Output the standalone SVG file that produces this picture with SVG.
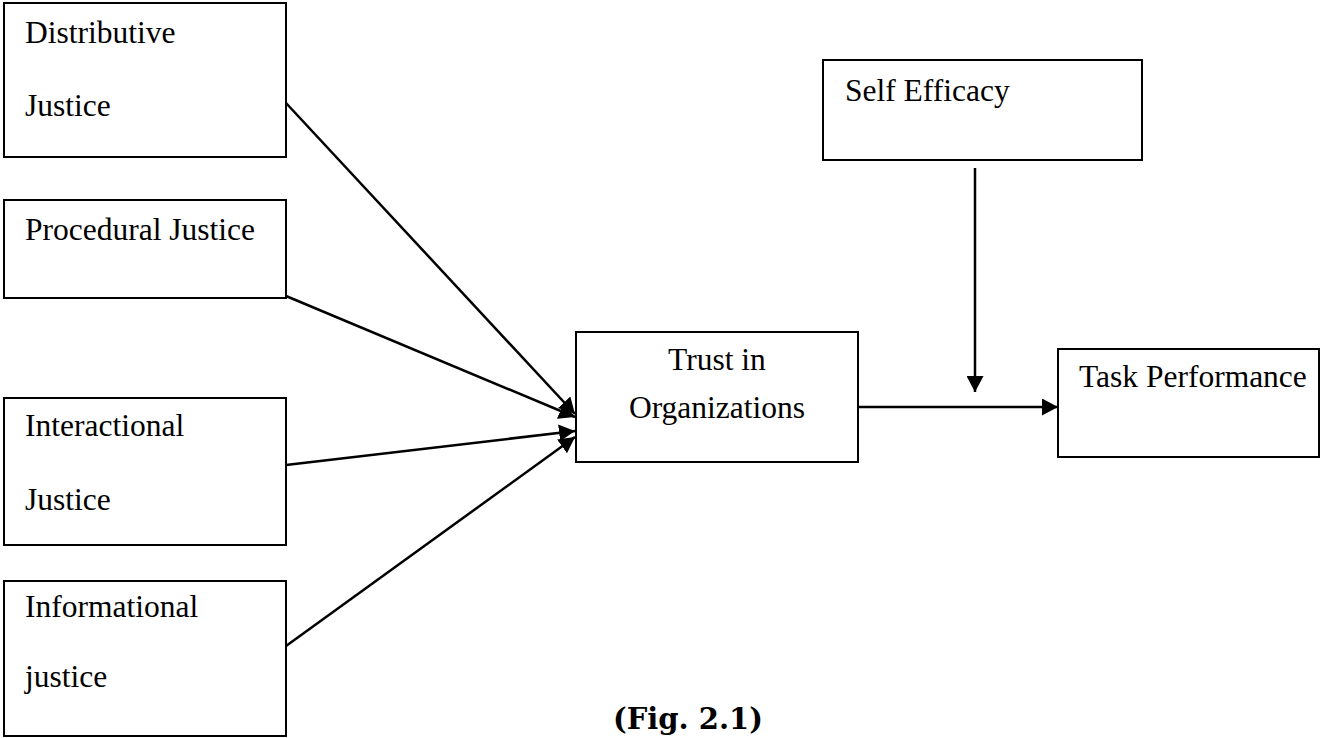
<svg xmlns="http://www.w3.org/2000/svg" width="1320" height="738" viewBox="0 0 1320 738">
<defs>
<style>
.box{fill:#fff;stroke:#000;stroke-width:2}
.lbl{font-family:"Liberation Serif","Times New Roman",serif;font-size:31.5px;fill:#000}
.mid{text-anchor:middle}
.edge{stroke:#000;stroke-width:2.5;fill:none}
.cap{font-family:"DejaVu Serif",serif;font-weight:bold;font-size:29px;fill:#000}
</style>
<marker id="ah" markerUnits="userSpaceOnUse" markerWidth="17" markerHeight="17" refX="16" refY="8.5" orient="auto">
<path d="M0,0 L16,8.5 L0,17 z" fill="#000"/>
</marker>
</defs>
<rect width="1320" height="738" fill="#fff"/>
<g id="connectors">
<line class="edge" x1="286" y1="103" x2="575" y2="414" marker-end="url(#ah)"/>
<line class="edge" x1="286" y1="296" x2="575" y2="417" marker-end="url(#ah)"/>
<line class="edge" x1="286" y1="465" x2="575" y2="431" marker-end="url(#ah)"/>
<line class="edge" x1="286" y1="646" x2="575" y2="437" marker-end="url(#ah)"/>
<line class="edge" x1="858" y1="407" x2="1058" y2="407" marker-end="url(#ah)"/>
<line class="edge" x1="975" y1="168" x2="975" y2="392" marker-end="url(#ah)"/>
</g>
<g id="distributive">
<rect class="box" x="4" y="3" width="282" height="154"/>
<text class="lbl" x="25" y="43">Distributive</text>
<text class="lbl" x="25" y="116">Justice</text>
</g>
<g id="procedural">
<rect class="box" x="4" y="200" width="282" height="98"/>
<text class="lbl" x="25" y="240">Procedural Justice</text>
</g>
<g id="interactional">
<rect class="box" x="4" y="398" width="282" height="147"/>
<text class="lbl" x="25" y="436">Interactional</text>
<text class="lbl" x="25" y="510">Justice</text>
</g>
<g id="informational">
<rect class="box" x="4" y="581" width="282" height="155"/>
<text class="lbl" x="25" y="617">Informational</text>
<text class="lbl" x="25" y="687">justice</text>
</g>
<g id="trust">
<rect class="box" x="576" y="332" width="282" height="130"/>
<text class="lbl mid" x="717" y="370">Trust in</text>
<text class="lbl mid" x="717" y="418">Organizations</text>
</g>
<g id="self-efficacy">
<rect class="box" x="823" y="60" width="319" height="100"/>
<text class="lbl" x="845" y="101">Self Efficacy</text>
</g>
<g id="task-performance">
<rect class="box" x="1058" y="349" width="261" height="108"/>
<text class="lbl" x="1079" y="387">Task Performance</text>
</g>
<text class="cap" x="613" y="729">(Fig. 2.1)</text>
</svg>
